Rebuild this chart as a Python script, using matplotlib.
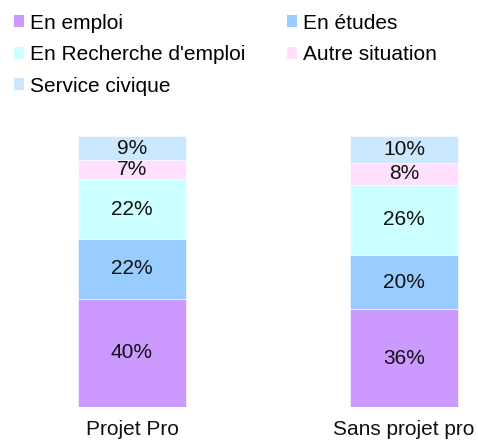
import matplotlib
matplotlib.use("Agg")
import matplotlib.pyplot as plt
from matplotlib.patches import Patch

plt.rcParams['font.family'] = ['Liberation Sans', 'DejaVu Sans']

groups = ["Projet Pro", "Sans projet pro"]
series = ["En emploi", "En études", "En Recherche d'emploi", "Autre situation", "Service civique"]
en_emploi = [40, 36]
en_etudes = [22, 20]
en_recherche = [22, 26]
autre = [7, 8]
service_civique = [9, 10]
colors = ["#CC99FF", "#99CCFF", "#CCFFFF", "#FFE0FF", "#CCE8FF"]

values = [en_emploi, en_etudes, en_recherche, autre, service_civique]

fig = plt.figure(figsize=(4.78, 4.41), dpi=100)
ax = fig.add_axes([0.0, 0.077, 1.0, 0.615])

x = list(range(len(groups)))
bottoms = [0] * len(groups)
for name, vals, col in zip(series, values, colors):
    ax.bar(x, vals, width=0.40, bottom=bottoms, color=col, label=name,
           edgecolor="white", linewidth=0.4)
    for xi, b, v in zip(x, bottoms, vals):
        ax.text(xi, b + v / 2, f"{v}%", ha="center", va="center",
                fontsize=15, color="#111111")
    bottoms = [b + v for b, v in zip(bottoms, vals)]

ax.set_xlim(-0.485, 1.272)
ax.set_ylim(0, 100)
ax.set_xticks(x)
ax.set_xticklabels(groups, fontsize=15, color="#111111")
ax.tick_params(axis="x", length=0, pad=9.5)
ax.set_yticks([])
for s in ax.spines.values():
    s.set_visible(False)

# legend laid out column-major so rows read left to right
handles = [Patch(facecolor=c, edgecolor="none") for c in colors]
order = [0, 2, 4, 1, 3]
fig.legend([handles[i] for i in order], [series[i] for i in order],
           loc="upper left", bbox_to_anchor=(0.0, 1.0), ncol=2, frameon=False,
           fontsize=15, handlelength=0.5, handleheight=0.5, handletextpad=0.28,
           columnspacing=2.0, labelspacing=0.6, borderaxespad=0.25)

fig.savefig("out.png", dpi=100)
